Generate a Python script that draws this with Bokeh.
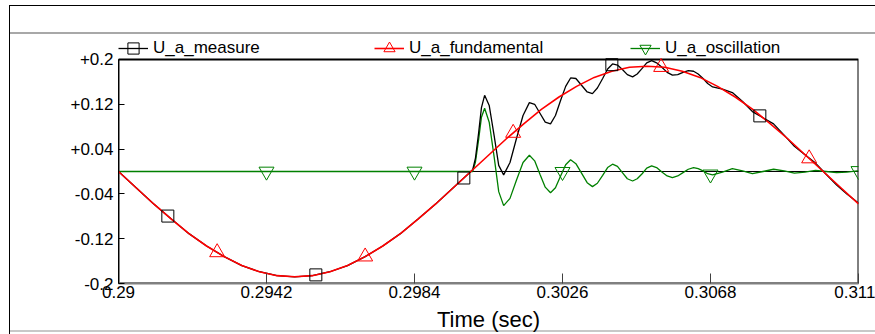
import numpy as np
from bokeh.plotting import figure
from bokeh.models import (Range1d, FixedTicker, Legend, LegendItem, Span, BoxAnnotation)
from bokeh.embed import file_html
from bokeh.resources import INLINE

FONT = "Liberation Sans"

# ---------------- data ----------------
fund_t = [0.2900, 0.2905, 0.2910, 0.2915, 0.2920, 0.2925, 0.2930, 0.2935, 0.2940, 0.2945,
          0.2950, 0.2955, 0.2960, 0.2965, 0.2970, 0.2975, 0.2980, 0.2985, 0.2990, 0.2995,
          0.3000, 0.3005, 0.3010, 0.3015, 0.3020, 0.3025, 0.3030, 0.3035, 0.3040, 0.3045,
          0.3050, 0.3055, 0.3060, 0.3065, 0.3070, 0.3075, 0.3080, 0.3085, 0.3090, 0.3095,
          0.3100, 0.3105, 0.3110]
fund_v = [0.000, -0.029, -0.058, -0.085, -0.111, -0.133, -0.152, -0.168, -0.179, -0.186,
          -0.188, -0.186, -0.179, -0.168, -0.152, -0.133, -0.111, -0.085, -0.058, -0.029,
          0.000, 0.029, 0.058, 0.085, 0.111, 0.133, 0.152, 0.168, 0.179, 0.186,
          0.188, 0.186, 0.179, 0.168, 0.152, 0.133, 0.111, 0.085, 0.058, 0.029,
          0.000, -0.029, -0.058]

osc_t = [0.29000, 0.29500, 0.30000, 0.30005, 0.30013, 0.30022, 0.30030, 0.30039, 0.30052, 0.30066,
         0.30079, 0.30093, 0.30111, 0.30129, 0.30148, 0.30166, 0.30181, 0.30196, 0.30211, 0.30226,
         0.30240, 0.30254, 0.30269, 0.30283, 0.30298, 0.30314, 0.30330, 0.30345, 0.30359, 0.30374,
         0.30388, 0.30402, 0.30416, 0.30430, 0.30444, 0.30459, 0.30472, 0.30486, 0.30499, 0.30513,
         0.30527, 0.30542, 0.30557, 0.30572, 0.30587, 0.30602, 0.30617, 0.30632, 0.30645, 0.30659,
         0.30672, 0.30686, 0.30714, 0.30742, 0.30771, 0.30799, 0.30829, 0.30859, 0.30889, 0.30918,
         0.30948, 0.30978, 0.31008, 0.31038, 0.31067, 0.31097, 0.31100]
osc_v = [0.000, 0.000, 0.000, 0.000, 0.017, 0.057, 0.097, 0.113, 0.088, 0.026,
         -0.036, -0.061, -0.048, -0.016, 0.016, 0.029, 0.019, -0.005, -0.028, -0.038,
         -0.029, -0.009, 0.012, 0.021, 0.014, -0.003, -0.020, -0.027, -0.021, -0.007,
         0.007, 0.013, 0.009, -0.002, -0.013, -0.017, -0.013, -0.004, 0.006, 0.010,
         0.007, -0.001, -0.008, -0.011, -0.008, -0.002, 0.004, 0.007, 0.005, 0.001,
         -0.004, -0.006, -0.001, 0.005, 0.001, -0.004, 0.000, 0.004, 0.001, -0.003,
         -0.001, 0.002, 0.000, -0.002, -0.001, 0.001, 0.001]

meas_t = [0.2900, 0.2905, 0.2910, 0.2915, 0.2920, 0.2925, 0.2930, 0.2935, 0.2940, 0.2945,
          0.2950, 0.2955, 0.2960, 0.2965, 0.2970, 0.2975, 0.2980, 0.2985, 0.2990, 0.2995,
          0.30000, 0.30005, 0.30013, 0.30022, 0.30030, 0.30039, 0.30052, 0.30066, 0.30079, 0.30093,
          0.30111, 0.30129, 0.30148, 0.30166, 0.30181, 0.30196, 0.30211, 0.30226, 0.30240, 0.30254,
          0.30269, 0.30283, 0.30298, 0.30314, 0.30330, 0.30345, 0.30359, 0.30374, 0.30388, 0.30402,
          0.30416, 0.30430, 0.30444, 0.30459, 0.30472, 0.30486, 0.30499, 0.30513, 0.30527, 0.30542,
          0.30557, 0.30572, 0.30587, 0.30602, 0.30617, 0.30632, 0.30645, 0.30659, 0.30672, 0.30686,
          0.30714, 0.30742, 0.30771, 0.30799, 0.30829, 0.30859, 0.30889, 0.30918, 0.30948, 0.30978,
          0.31008, 0.31038, 0.31067, 0.31097, 0.31100]
meas_v = [0.000, -0.029, -0.058, -0.085, -0.111, -0.133, -0.152, -0.168, -0.179, -0.186,
          -0.188, -0.186, -0.179, -0.168, -0.152, -0.133, -0.111, -0.085, -0.058, -0.029,
          0.000, 0.003, 0.024, 0.069, 0.114, 0.136, 0.118, 0.064, 0.011, -0.006,
          0.016, 0.058, 0.100, 0.123, 0.120, 0.104, 0.088, 0.085, 0.100, 0.126,
          0.152, 0.167, 0.166, 0.154, 0.142, 0.139, 0.149, 0.166, 0.183, 0.192,
          0.190, 0.182, 0.173, 0.169, 0.174, 0.184, 0.194, 0.198, 0.194, 0.186,
          0.177, 0.172, 0.173, 0.177, 0.180, 0.179, 0.174, 0.166, 0.157, 0.151,
          0.147, 0.141, 0.125, 0.107, 0.096, 0.085, 0.065, 0.045, 0.030, 0.015,
          -0.005, -0.024, -0.040, -0.055, -0.057]

meas_marker_t = [0.2914, 0.2956, 0.2998, 0.3040, 0.3082]
fund_marker_t = [0.2928, 0.2970, 0.3012, 0.3054, 0.3096]
osc_marker_t = [0.2942, 0.2984, 0.3026, 0.3068, 0.3110]

x_ticks = [0.29, 0.2942, 0.2984, 0.3026, 0.3068, 0.311]
x_tick_labels = ["0.29", "0.2942", "0.2984", "0.3026", "0.3068", "0.311"]
y_ticks = [-0.2, -0.12, -0.04, 0.04, 0.12, 0.2]
y_tick_labels = ["-0.2", "-0.12", "-0.04", "+0.04", "+0.12", "+0.2"]

X_MIN, X_MAX = 0.29, 0.311
Y_MIN, Y_MAX = -0.2, 0.2
Y_TOP = 0.2446   # extra headroom inside the frame that holds the legend

# ---------------- figure ----------------
p = figure(width=875, height=334, output_backend="svg", toolbar_location=None, title=None,
           x_range=Range1d(X_MIN, X_MAX), y_range=Range1d(Y_MIN, Y_TOP),
           min_border_left=118, min_border_right=17, min_border_top=34, min_border_bottom=51,
           background_fill_color="white", border_fill_color=None)
p.xgrid.grid_line_color = None
p.ygrid.grid_line_color = None
p.outline_line_color = None

# window decoration lines (CSS backgrounds behind the transparent border area)
p.styles = {
    "background-color": "white",
    "background-image": ("linear-gradient(#000,#000), linear-gradient(#000,#000), "
                         "linear-gradient(#a8a8a8,#a8a8a8), linear-gradient(#c8c8c8,#c8c8c8)"),
    "background-size": "866px 1px, 1px 329px, 866px 2px, 866px 2px",
    "background-position": "9px 5px, 9px 5px, 9px 32px, 9px 330px",
    "background-repeat": "no-repeat",
}

# plot box and zero reference line under the curves
p.add_layout(BoxAnnotation(left=X_MIN, right=X_MAX, bottom=Y_MIN, top=Y_MAX,
                           fill_alpha=0, line_color="black", line_alpha=1, line_width=2,
                           level="underlay"))
p.add_layout(Span(location=0, dimension="width", line_color="black", line_width=1, level="underlay"))

r_osc = p.line(osc_t, osc_v, line_color="#008000", line_width=1.3)
r_meas = p.line(meas_t, meas_v, line_color="black", line_width=1.3)
r_fund = p.line(fund_t, fund_v, line_color="#ff0000", line_width=1.6)

m_osc = p.scatter(osc_marker_t, np.interp(osc_marker_t, osc_t, osc_v), marker="inverted_triangle",
                  size=15, fill_color=None, line_color="#008000", line_width=1)
m_meas = p.scatter(meas_marker_t, np.interp(meas_marker_t, meas_t, meas_v), marker="square",
                   size=12, fill_color=None, line_color="black", line_width=1)
m_fund = p.scatter(fund_marker_t, np.interp(fund_marker_t, fund_t, fund_v), marker="triangle",
                   size=15, fill_color=None, line_color="#ff0000", line_width=1)

# axes
p.xaxis.ticker = FixedTicker(ticks=x_ticks)
p.xaxis.major_label_overrides = {t: s for t, s in zip(x_ticks, x_tick_labels)}
p.yaxis.ticker = FixedTicker(ticks=y_ticks)
p.yaxis.major_label_overrides = {t: s for t, s in zip(y_ticks, y_tick_labels)}
p.yaxis.bounds = (Y_MIN, Y_MAX)
for ax in (p.xaxis, p.yaxis):
    ax.major_label_text_font = FONT
    ax.major_label_text_font_size = "17px"
    ax.major_label_text_color = "black"
    ax.minor_tick_line_color = None
    ax.major_tick_out = 0
p.yaxis.major_tick_in = 6
p.yaxis.axis_line_color = "black"
p.yaxis.major_tick_line_color = "black"
p.yaxis.major_label_standoff = 5
p.xaxis.major_tick_in = 10
p.xaxis.axis_line_color = "#808080"
p.xaxis.axis_line_width = 2
p.xaxis.major_tick_line_color = "#404040"
p.xaxis.major_label_standoff = 2
p.xaxis.axis_label = "Time (sec)"
p.xaxis.axis_label_text_font = FONT
p.xaxis.axis_label_text_font_size = "22px"
p.xaxis.axis_label_text_font_style = "normal"
p.xaxis.axis_label_text_color = "black"
p.xaxis.axis_label_standoff = 6

# legend in the headroom above the plot box
legend = Legend(items=[LegendItem(label="U_a_measure", renderers=[r_meas, m_meas]),
                       LegendItem(label="U_a_fundamental", renderers=[r_fund, m_fund]),
                       LegendItem(label="U_a_oscillation", renderers=[r_osc, m_osc])],
                location=(0, 221), orientation="horizontal", padding=0, margin=0, spacing=0,
                glyph_width=30, glyph_height=28, label_standoff=5, label_width=221, label_height=16,
                label_text_font=FONT, label_text_font_size="17px", label_text_color="black",
                background_fill_alpha=0, border_line_alpha=0)
p.add_layout(legend)

open("out.html", "w").write(file_html(p, INLINE))
